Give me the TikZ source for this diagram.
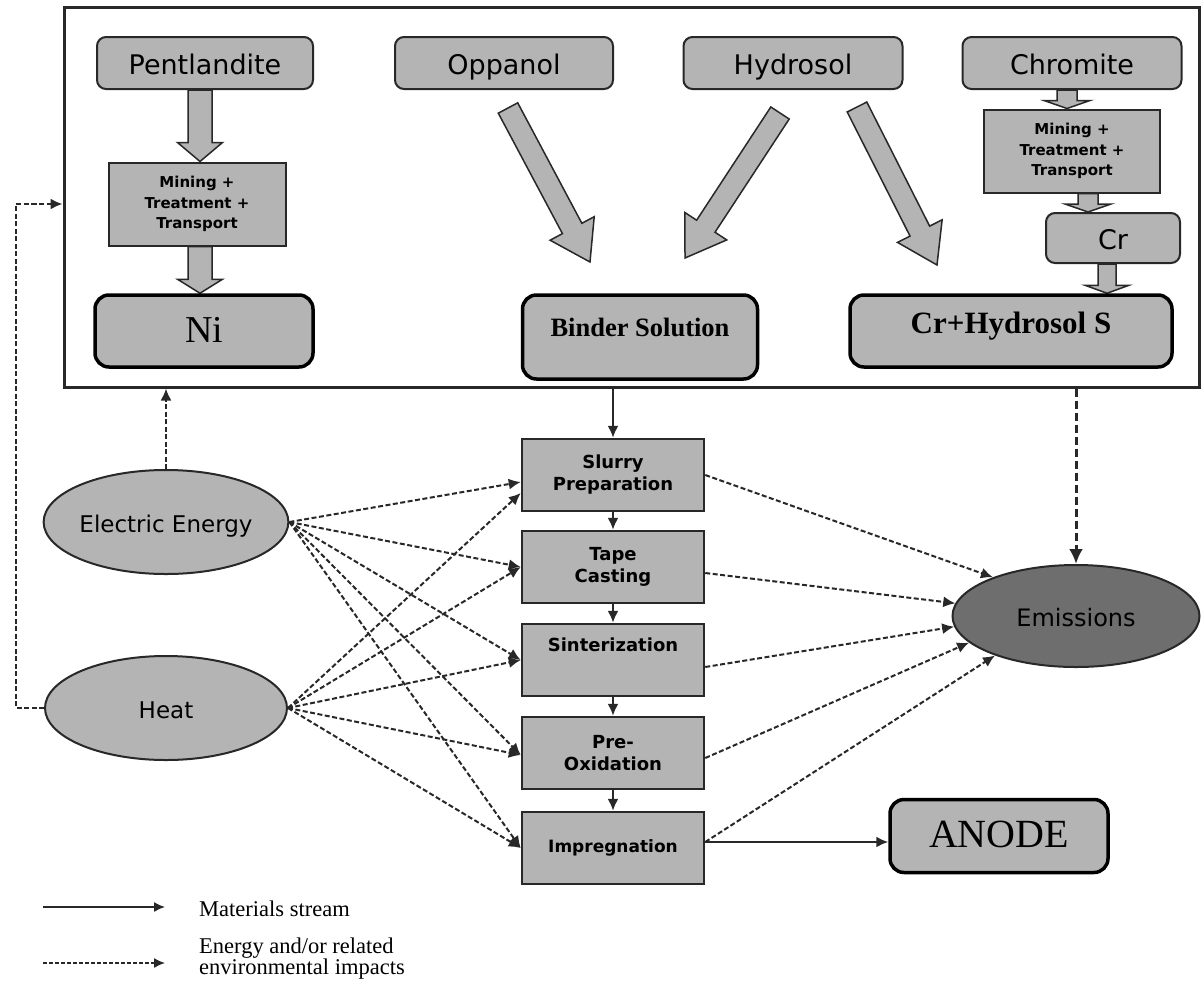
\documentclass[tikz,border=0pt]{standalone}
\usepackage{fontspec}
\setmainfont{Liberation Serif}
\newfontfamily\vsans{DejaVu Sans}
\usetikzlibrary{shapes.geometric,arrows.meta,calc}
\pgfdeclarelayer{background}
\pgfsetlayers{background,main}
\definecolor{boxgray}{RGB}{180,180,180}
\definecolor{emisgray}{RGB}{110,110,110}
\definecolor{ink}{RGB}{40,40,40}

% block arrow: tail, tip, shaft half width, head half width, head length
\newcommand{\fatarrow}[5]{%
  \path let \p1=(#1), \p2=(#2),
    \n1={atan2(\y2-\y1,\x2-\x1)}, \n2={veclen(\x2-\x1,\y2-\y1)} in
    \pgfextra{\xdef\fatang{\n1}\xdef\fatlen{\n2}};
  \draw[fatarrowstyle, shift={(#1)}, rotate=\fatang]
    (0,-#3) -- ({\fatlen-#5},-#3) -- ({\fatlen-#5},-#4) -- (\fatlen,0)
    -- ({\fatlen-#5},#4) -- ({\fatlen-#5},#3) -- (0,#3) -- cycle;
}

\begin{document}
\begin{tikzpicture}[x=1pt,y=-1pt,
  srcbox/.style={draw=ink, line width=2pt, rounded corners=9pt, fill=boxgray,
    minimum width=216pt, minimum height=52pt, inner sep=0pt,
    text height=24pt, text depth=1pt,
    font=\vsans\fontsize{27}{32}\selectfont},
  minebox/.style={draw=ink, line width=2pt, fill=boxgray, minimum width=177pt,
    minimum height=83pt, align=center, inner sep=0pt,
    font=\vsans\bfseries\fontsize{15}{20.5}\selectfont},
  prodbox/.style={draw=black, line width=3.5pt, rounded corners=14pt,
    fill=boxgray, inner sep=0pt},
  procbox/.style={draw=ink, line width=2.5pt, fill=boxgray, minimum width=182pt,
    minimum height=72pt, align=center, inner sep=0pt,
    font=\vsans\bfseries\fontsize{18}{22}\selectfont},
  source/.style={ellipse, draw=ink, line width=2pt, fill=boxgray,
    minimum width=242pt, minimum height=104pt, inner sep=0pt,
    text height=22pt, text depth=1pt,
    font=\vsans\fontsize{23}{28}\selectfont},
  matflow/.style={draw=ink, line width=2pt, -{Latex[length=12pt,width=11pt]}},
  enflow/.style={draw=ink, line width=2pt, dash pattern=on 5pt off 2.5pt,
    -{Latex[length=12pt,width=11pt]}},
  fatarrowstyle/.style={draw=ink, line width=1.5pt, fill=boxgray, line join=miter}]

\useasboundingbox (0,0) rectangle (1204,991);

% raw-material block
\node[draw=ink, line width=3pt, minimum width=1135pt, minimum height=380pt,
  inner sep=0pt] (frame) at (631.5,197) {};

\node[srcbox] (pent) at (205,63) {Pentlandite};
\node[srcbox, minimum width=218pt] (opp) at (504,63) {Oppanol};
\node[srcbox, minimum width=219pt] (hyd) at (793,63) {Hydrosol};
\node[srcbox, minimum width=219pt] (chrom) at (1072,63) {Chromite};

\node[minebox] (mineL) at (197,204) {Mining +\\Treatment +\\Transport};
\node[minebox, minimum width=176pt] (mineR) at (1072,151) {Mining +\\Treatment +\\Transport};
\node[srcbox, minimum width=134pt, minimum height=50pt] (cr) at (1113,238) {Cr};

\node[prodbox, minimum width=218pt, minimum height=72pt,
  text height=24pt, text depth=2pt,
  font=\fontsize{38}{44}\selectfont] (ni) at (204,331) {Ni};
\node[prodbox, minimum width=322pt, minimum height=72pt,
  text height=22pt, text depth=18pt,
  font=\bfseries\fontsize{31}{36}\selectfont] (crh) at (1011,331) {Cr+Hydrosol S};
\node[prodbox, minimum width=235pt, minimum height=84pt] (binder) at (640,337) {};
\node[font=\bfseries\fontsize{26.5}{30}\selectfont, inner sep=0pt] (bindertext)
  at (640,327) {Binder Solution};

% free ends of the diagonal block arrows
\coordinate (oppT) at (508,108);
\coordinate (oppH) at (590,262);
\coordinate (hydLT) at (780,113);
\coordinate (hydLH) at (685,258);
\coordinate (hydRT) at (857,107);
\coordinate (hydRH) at (937,265);

% process chain
\node[procbox] (slurry) at (613,475) {Slurry\\Preparation};
\node[procbox] (tape) at (613,567) {Tape\\Casting};
\node[procbox] (sinter) at (613,660) {};
\node[font=\vsans\bfseries\fontsize{18}{22}\selectfont, inner sep=0pt]
  (sintertext) at (613,645) {Sinterization};
\node[procbox] (preox) at (613,753) {Pre-\\Oxidation};
\node[procbox, font=\vsans\bfseries\fontsize{17}{22}\selectfont] (impreg)
  at (613,848) {Impregnation};

\node[source] (elec) at (166,522) {Electric Energy};
\node[source] (heat) at (166,708) {Heat};
\node[source, fill=emisgray, minimum width=247pt, minimum height=102pt,
  font=\vsans\fontsize{24}{28}\selectfont] (emis) at (1076,616) {Emissions};

\node[prodbox, minimum width=218pt, minimum height=73pt,
  text height=24pt, text depth=2pt,
  font=\fontsize{40}{46}\selectfont] (anode) at (999,836) {ANODE};

% block arrows
\coordinate (a1t) at ([xshift=-5pt]chrom.south);
\coordinate (a1h) at (a1t |- mineR.north);
\coordinate (a2t) at ([xshift=16pt]mineR.south);
\coordinate (a2h) at (a2t |- cr.north);
\coordinate (a3t) at ([xshift=-6pt]cr.south);
\coordinate (a3h) at (a3t |- crh.north);
\coordinate (p1t) at ([xshift=-5pt]pent.south);
\coordinate (p1h) at (p1t |- mineL.north);
\coordinate (p2t) at (p1t |- mineL.south);
\coordinate (p2h) at (p1t |- ni.north);
\begin{pgfonlayer}{background}
  \fatarrow{p1t}{p1h}{12}{22.5}{19}
  \fatarrow{p2t}{p2h}{12}{22.5}{14}
  \fatarrow{oppT}{oppH}{11}{25}{38}
  \fatarrow{hydLT}{hydLH}{11}{25}{38}
  \fatarrow{hydRT}{hydRH}{11}{25}{38}
  \fatarrow{a1t}{a1h}{10}{23}{8}
  \fatarrow{a2t}{a2h}{10}{23}{8}
  \fatarrow{a3t}{a3h}{9}{22}{8}
\end{pgfonlayer}

% materials stream
\draw[matflow] (frame.south -| slurry.north) -- (slurry.north);
\draw[matflow] (slurry.south) -- (tape.north);
\draw[matflow] (tape.south) -- (sinter.north);
\draw[matflow] (sinter.south) -- (preox.north);
\draw[matflow] (preox.south) -- (impreg.north);
\coordinate (impout) at ([yshift=6pt]impreg.east);
\draw[matflow] (impout) -- (impout -| anode.west);

% energy supply
\draw[enflow] (elec.north) -- (elec.north |- frame.south);
\draw[enflow] (heat.west) -- ([xshift=-28pt]heat.west) |- (frame.west |- mineL);
\foreach \src in {elec, heat}{
  \draw[enflow] (\src.east) -- (tape.west);
  \draw[enflow] (\src.east) -- (sinter.west);
  \draw[enflow] (\src.east) -- ([yshift=-2pt]preox.west);
  \draw[enflow] (\src.east) -- (impreg.west);
}
\draw[enflow] (elec.east) -- ([yshift=-7pt]slurry.west);
\draw[enflow] (heat.east) -- ([yshift=-18pt]slurry.west);

% emissions
\draw[draw=ink, line width=3pt, dash pattern=on 8pt off 4pt,
  -{Latex[length=15pt,width=14pt]}] (frame.south -| emis.north) -- (emis.north);
\draw[enflow] (slurry.east) -- (emis.155);
\draw[enflow] ([yshift=-6pt]tape.east) -- (emis.174);
\draw[enflow] ([yshift=-7pt]sinter.east) -- (emis.185);
\draw[enflow] ([yshift=-5pt]preox.east) -- (emis.194);
\draw[enflow] ([yshift=6pt]impreg.east) -- (emis.206);

% legend
\coordinate (lg1a) at (43,907);
\coordinate (lg1b) at (165,907);
\draw[draw=ink, line width=1.5pt, -{Latex[length=11pt,width=10pt]}] (lg1a) -- (lg1b);
\node[anchor=west, inner sep=0pt, font=\fontsize{22.5}{21}\selectfont]
  (lgtext1) at (199,909) {Materials stream};
\coordinate (lg2a) at (43,963);
\coordinate (lg2b) at (165,963);
\draw[draw=ink, line width=1.5pt, dash pattern=on 4pt off 2pt,
  -{Latex[length=11pt,width=10pt]}] (lg2a) -- (lg2b);
\node[anchor=west, align=left, inner sep=0pt, font=\fontsize{22.5}{21}\selectfont]
  (lgtext2) at (199,959) {Energy and/or related\\environmental impacts};
\end{tikzpicture}
\end{document}
